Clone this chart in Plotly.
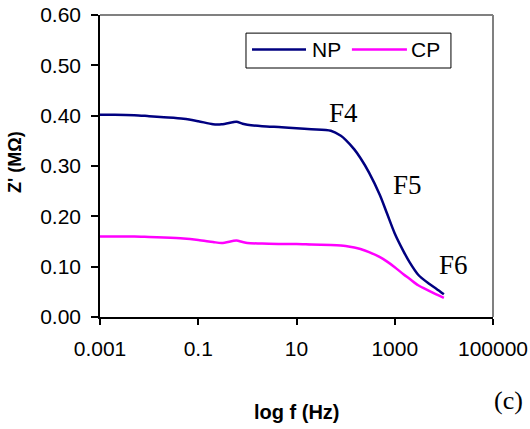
import plotly.graph_objects as go

# Frequency sweep (Hz) and real part of impedance Z' (MOhm)
freq_hz = [0.001, 0.002, 0.005, 0.01, 0.02, 0.05, 0.1, 0.2, 0.3, 0.5, 0.6, 0.8,
           1, 2, 5, 10, 20, 50, 80, 100, 150, 200, 300, 500, 700,
           1000, 1500, 2000, 3000, 5000, 7000, 10000]
z_np = [0.402, 0.402, 0.401, 0.399, 0.397, 0.394, 0.389, 0.383, 0.383, 0.387, 0.388, 0.384,
        0.382, 0.379, 0.377, 0.375, 0.373, 0.370, 0.360, 0.352, 0.333, 0.316, 0.287, 0.242, 0.205,
        0.166, 0.131, 0.109, 0.084, 0.066, 0.056, 0.045]
z_cp = [0.160, 0.160, 0.160, 0.159, 0.158, 0.156, 0.153, 0.149, 0.147, 0.151, 0.152, 0.149,
        0.147, 0.146, 0.145, 0.145, 0.144, 0.143, 0.142, 0.141, 0.138, 0.135, 0.129, 0.119, 0.110,
        0.099, 0.085, 0.076, 0.063, 0.052, 0.045, 0.038]

series_names = ["NP", "CP"]
series_colors = ["#000080", "#FF00FF"]

x_tickvals = [0.001, 0.1, 10, 1000, 100000]
x_ticktext = ["0.001", "0.1", "10", "1000", "100000"]

# Frequency region labels (log10 f, Z')
region_labels = ["F4", "F5", "F6"]
region_logf = [1.95, 3.25, 4.19]
region_z = [0.405, 0.262, 0.103]

SANS = "Arial, 'Liberation Sans', sans-serif"
SERIF = "'Times New Roman', 'Liberation Serif', serif"
FS = 21

fig = go.Figure()
for name, ys, color in zip(series_names, [z_np, z_cp], series_colors):
    fig.add_trace(go.Scatter(
        x=freq_hz, y=ys, name=name, mode="lines",
        line=dict(color=color, width=2.5, shape="spline", smoothing=0.8),
        showlegend=False,
    ))

fig.update_layout(
    width=530, height=429,
    margin=dict(l=100, r=37, t=15, b=112, autoexpand=False),
    paper_bgcolor="white", plot_bgcolor="white",
    font=dict(family=SANS, size=FS, color="black"),
    xaxis=dict(
        type="log", range=[-3, 5], automargin=False,
        tickvals=x_tickvals, ticktext=x_ticktext,
        showgrid=False, zeroline=False,
        showline=True, linecolor="black", linewidth=1.5,
        ticks="outside", ticklen=6, tickcolor="black", tickwidth=1.5,
        ticklabelstandoff=6,
    ),
    yaxis=dict(
        range=[0, 0.6], dtick=0.1, tickformat=".2f", automargin=False,
        showgrid=False, zeroline=False,
        showline=True, linecolor="black", linewidth=1.5,
        ticks="outside", ticklen=7, tickcolor="black", tickwidth=1.5,
        ticklabelstandoff=6,
    ),
)

# Plot-area frame on top and right
fig.add_shape(type="line", xref="paper", yref="paper", x0=0, x1=1, y0=1, y1=1,
              line=dict(color="#808080", width=2))
fig.add_shape(type="line", xref="paper", yref="paper", x0=1, x1=1, y0=0, y1=1,
              line=dict(color="#808080", width=2))

# Legend box with line samples
fig.add_shape(type="rect", xref="paper", yref="paper",
              x0=0.3715, x1=0.893, y0=0.8245, y1=0.940,
              line=dict(color="black", width=1), fillcolor="white")
legend_line_x = [(0.3868, 0.5242), (0.641, 0.781)]
legend_text_x = [0.534, 0.786]
legend_y = 0.886
for name, color, (lx0, lx1), tx in zip(series_names, series_colors, legend_line_x, legend_text_x):
    fig.add_shape(type="line", xref="paper", yref="paper", x0=lx0, x1=lx1,
                  y0=legend_y, y1=legend_y, line=dict(color=color, width=2.5))
    fig.add_annotation(text=name, xref="paper", yref="paper", x=tx, y=legend_y,
                       xanchor="left", yanchor="middle", showarrow=False,
                       font=dict(family=SANS, size=FS, color="black"))

# Region labels
for lab, lx, lz in zip(region_labels, region_logf, region_z):
    fig.add_annotation(text=lab, x=lx, y=lz, xref="x", yref="y", showarrow=False,
                       xanchor="center", yanchor="middle",
                       font=dict(family=SERIF, size=27, color="black"))

# Axis titles
fig.add_annotation(text="<b>log f (Hz)</b>", xref="paper", yref="paper",
                   x=0.5, y=(317 - 412) / 302, xanchor="center", yanchor="middle",
                   showarrow=False, font=dict(family=SANS, size=20, color="black"))
fig.add_annotation(text="<b>Z' (MΩ)</b>", xref="paper", yref="paper",
                   x=(15 - 100) / 393, y=(317 - 162) / 302, xanchor="center", yanchor="middle",
                   textangle=-90, showarrow=False, font=dict(family=SANS, size=18, color="black"))

# Panel tag
fig.add_annotation(text="(c)", xref="paper", yref="paper",
                   x=(508 - 100) / 393, y=(317 - 400) / 302, xanchor="center", yanchor="middle",
                   showarrow=False, font=dict(family=SERIF, size=26, color="black"))

fig.write_html("out.html")
